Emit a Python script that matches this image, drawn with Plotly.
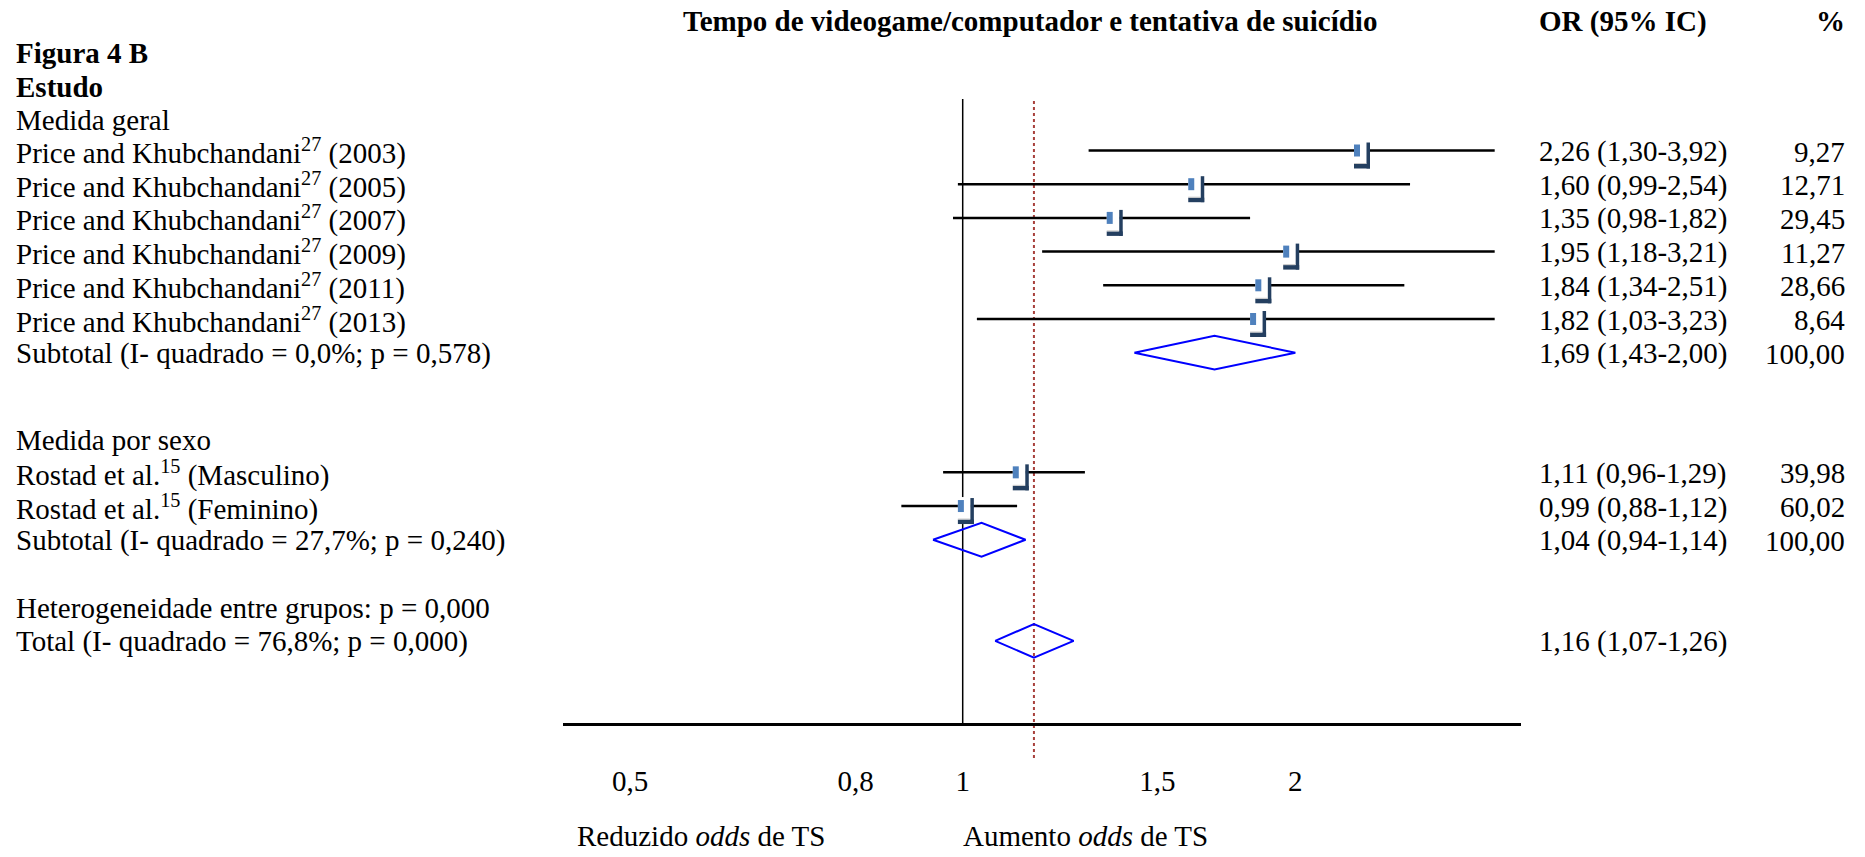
import plotly.graph_objects as go

# ---------------- data ----------------
title_text = "Tempo de videogame/computador e tentativa de suicídio"

group1_title = "Medida geral"
group1_studies = [
    "Price and Khubchandani<sup>27</sup> (2003)",
    "Price and Khubchandani<sup>27</sup> (2005)",
    "Price and Khubchandani<sup>27</sup> (2007)",
    "Price and Khubchandani<sup>27</sup> (2009)",
    "Price and Khubchandani<sup>27</sup> (2011)",
    "Price and Khubchandani<sup>27</sup> (2013)",
]
group1_or = [2.26, 1.60, 1.35, 1.95, 1.84, 1.82]
group1_low = [1.30, 0.99, 0.98, 1.18, 1.34, 1.03]
group1_high = [3.92, 2.54, 1.82, 3.21, 2.51, 3.23]
group1_weight = [9.27, 12.71, 29.45, 11.27, 28.66, 8.64]

group2_title = "Medida por sexo"
group2_studies = [
    "Rostad et al.<sup>15</sup> (Masculino)",
    "Rostad et al.<sup>15</sup> (Feminino)",
]
group2_or = [1.11, 0.99]
group2_low = [0.96, 0.88]
group2_high = [1.29, 1.12]
group2_weight = [39.98, 60.02]

subtotal_labels = [
    "Subtotal (I- quadrado = 0,0%; p = 0,578)",
    "Subtotal (I- quadrado = 27,7%; p = 0,240)",
]
subtotal_or = [1.69, 1.04]
subtotal_low = [1.43, 0.94]
subtotal_high = [2.00, 1.14]
subtotal_weight = [100.00, 100.00]

heterogeneity_label = "Heterogeneidade entre grupos: p = 0,000"
total_label = "Total (I- quadrado = 76,8%; p = 0,000)"
total_or = 1.16
total_low = 1.07
total_high = 1.26

tick_vals = [0.5, 0.8, 1, 1.5, 2]
tick_text = ["0,5", "0,8", "1", "1,5", "2"]

# ---------------- layout constants ----------------
W, H = 1865, 857
FONT = "Liberation Serif, Times New Roman, serif"
FS = 29
ROW0_PX, ROW_PX = 150.5, 33.7          # pixel centre of first study row, row pitch
CI_DRAW_MAX = 3.03                     # CI lines are cut here
X_LEFT_PX, X_RIGHT_PX, X_ONE_PX = 563, 1521, 962.7
PX_PER_DECADE = 1105.0

# row positions
rows_g1 = list(range(len(group1_studies)))
row_sub1 = len(group1_studies)
row_g2_title = row_sub1 + 2.55
rows_g2 = [row_g2_title + 1 + i for i in range(len(group2_studies))]
row_sub2 = rows_g2[-1] + 1
row_het = row_sub2 + 2
row_total = row_het + 1
row_title, row_fig, row_estudo, row_g1_title = -3.87, -2.92, -1.92, -0.94


def fmt(v):
    return f"{v:.2f}".replace(".", ",")


def or_text(o, lo, hi):
    return f"{fmt(o)} ({fmt(lo)}-{fmt(hi)})"


fig = go.Figure()

# reference line at OR = 1 and dotted line at the pooled estimate
fig.add_trace(go.Scatter(x=[1, 1], y=[-1.53, 17.02], mode="lines",
                         line=dict(color="black", width=1.5), hoverinfo="skip"))
fig.add_trace(go.Scatter(x=[total_or, total_or], y=[-1.47, 18.08], mode="lines",
                         line=dict(color="#A8403B", width=2, dash="dot"), hoverinfo="skip"))

# confidence-interval whiskers
all_or = group1_or + group2_or
all_low = group1_low + group2_low
all_high = group1_high + group2_high
all_rows = rows_g1 + rows_g2
cx, cy = [], []
for lo, hi, r in zip(all_low, all_high, all_rows):
    cx += [lo, min(hi, CI_DRAW_MAX), None]
    cy += [r, r, None]
fig.add_trace(go.Scatter(x=cx, y=cy, mode="lines",
                         line=dict(color="black", width=2.5), hoverinfo="skip"))

# pooled diamonds
DH = 0.5
dx, dy = [], []
for o, lo, hi, r in zip(subtotal_or + [total_or], subtotal_low + [total_low],
                        subtotal_high + [total_high], [row_sub1, row_sub2, row_total]):
    dx += [lo, o, hi, o, lo, None]
    dy += [r, r - DH, r, r + DH, r, None]
fig.add_trace(go.Scatter(x=dx, y=dy, mode="lines",
                         line=dict(color="#0000FF", width=2), hoverinfo="skip"))

# study markers: blue square with a dark drop shadow
shapes = []
for o, r in zip(all_or, all_rows):
    base = dict(xref="x", yref="y", xsizemode="pixel", ysizemode="pixel",
                xanchor=o, yanchor=r, layer="above")
    shapes.append(dict(base, type="rect", x0=-13, x1=13, y0=-18, y1=9,
                       fillcolor="white", line=dict(width=0)))
    shapes.append(dict(base, type="rect", x0=12.5, x1=16, y0=-18, y1=8,
                       fillcolor="#243F60", line=dict(width=0)))
    shapes.append(dict(base, type="rect", x0=-11, x1=16, y0=-18, y1=-13.5,
                       fillcolor="#243F60", line=dict(width=0)))
    shapes.append(dict(base, type="line", x0=-7, x1=12, y0=-13, y1=-13,
                       line=dict(color="#C8C8C8", width=1)))
    shapes.append(dict(base, type="rect", x0=-6, x1=6, y0=-6, y1=6,
                       fillcolor="#4F81BD", line=dict(width=0)))

# text columns
ann = []
X_LABEL = 14 / W
X_OR = 1537 / W
X_PCT = 1847 / W


def txt(text, x, y, anchor="left", bold=False, size=FS, shift=-1):
    ann.append(dict(text=f"<b>{text}</b>" if bold else text, x=x, y=y, xref="paper", yref="y",
                    xanchor=anchor, yanchor="middle", showarrow=False, yshift=shift,
                    font=dict(family=FONT, size=size, color="black")))


txt(title_text, 1030 / W, row_title, anchor="center", bold=True)
txt("OR (95% IC)", X_OR, row_title, bold=True)
txt("%", X_PCT, row_title, anchor="right", bold=True)
txt("Figura 4 B", X_LABEL, row_fig, bold=True)
txt("Estudo", X_LABEL, row_estudo, bold=True)
txt(group1_title, X_LABEL, row_g1_title)

for name, o, lo, hi, w, r in zip(group1_studies, group1_or, group1_low, group1_high,
                                 group1_weight, rows_g1):
    txt(name, X_LABEL, r)
    txt(or_text(o, lo, hi), X_OR, r)
    txt(fmt(w), X_PCT, r, anchor="right")

txt(group2_title, X_LABEL, row_g2_title)
for name, o, lo, hi, w, r in zip(group2_studies, group2_or, group2_low, group2_high,
                                 group2_weight, rows_g2):
    txt(name, X_LABEL, r)
    txt(or_text(o, lo, hi), X_OR, r)
    txt(fmt(w), X_PCT, r, anchor="right")

for lab, o, lo, hi, w, r in zip(subtotal_labels, subtotal_or, subtotal_low, subtotal_high,
                                subtotal_weight, [row_sub1, row_sub2]):
    txt(lab, X_LABEL, r)
    txt(or_text(o, lo, hi), X_OR, r)
    txt(fmt(w), X_PCT, r, anchor="right")

txt(heterogeneity_label, X_LABEL, row_het)
txt(total_label, X_LABEL, row_total)
txt(or_text(total_or, total_low, total_high), X_OR, row_total)

# direction captions under the axis
cap_row = (836 - ROW0_PX) / ROW_PX
txt("Reduzido <i>odds</i> de TS", 575 / W, cap_row, shift=0)
txt("Aumento <i>odds</i> de TS", 961 / W, cap_row, shift=0)

y_top = (0 - ROW0_PX) / ROW_PX
y_bot = (H - ROW0_PX) / ROW_PX
x_lo = (X_LEFT_PX - X_ONE_PX) / PX_PER_DECADE
x_hi = (X_RIGHT_PX - X_ONE_PX) / PX_PER_DECADE

fig.update_layout(
    width=W, height=H,
    margin=dict(l=0, r=0, t=0, b=0, pad=0),
    paper_bgcolor="white", plot_bgcolor="white",
    showlegend=False,
    shapes=shapes,
    annotations=ann,
    xaxis=dict(type="log", range=[x_lo, x_hi],
               domain=[X_LEFT_PX / W, X_RIGHT_PX / W],
               anchor="free", position=1 - 724.3 / H,
               showline=True, linecolor="black", linewidth=2.5,
               ticks="outside", ticklen=30, tickcolor="rgba(0,0,0,0)",
               tickvals=tick_vals, ticktext=tick_text,
               tickfont=dict(family=FONT, size=FS, color="black"),
               showgrid=False, zeroline=False, fixedrange=True),
    yaxis=dict(range=[y_bot, y_top], domain=[0, 1], visible=False,
               showgrid=False, zeroline=False, fixedrange=True),
)

fig.write_html("out.html")
